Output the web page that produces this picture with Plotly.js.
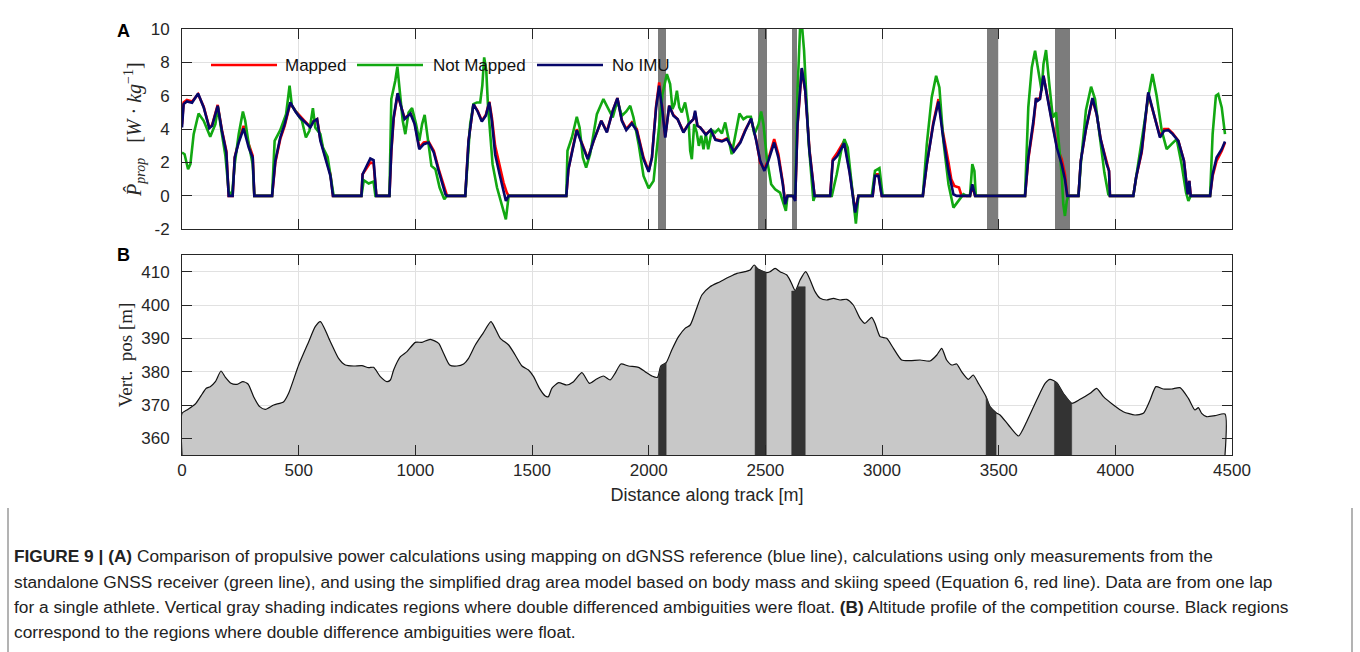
<!DOCTYPE html>
<html>
<head>
<meta charset="utf-8">
<script src="https://cdn.plot.ly/plotly-3.0.1.min.js"></script>
<style>
  html, body { margin: 0; padding: 0; background: #ffffff; }
  #chart { width: 1360px; height: 652px; }
</style>
</head>
<body>
<div id="chart"></div>
<script>
// ---------- Panel A: estimated propulsive power along one lap [W/kg] ----------
const distMapped = [0,7,21,43,69,93,117,129,153,171,190,200,217,226,243,264,286,303,310,386,
  400,421,440,464,486,503,521,536,550,564,579,593,614,636,647,769,774,793,807,821,
  833,889,897,907,924,940,954,979,997,1017,1036,1057,1079,1100,1129,1136,1214,1228,1249,1267,
  1285,1302,1317,1328,1342,1361,1378,1392,1400,1647,1656,1675,1692,1714,1739,1764,1797,1821,1846,1866,
  1885,1904,1928,1949,1978,2000,2014,2032,2045,2059,2071,2088,2106,2124,2149,2171,2192,2199,2209,2221,
  2245,2266,2286,2314,2336,2365,2393,2414,2439,2461,2478,2496,2513,2538,2556,2575,2585,2595,2618,2628,
  2638,2656,2671,2689,2711,2778,2789,2809,2838,2861,2885,2899,2960,2970,2985,2999,3175,3192,3220,3242,
  3260,3285,3297,3310,3330,3341,3377,3387,3399,3613,3627,3649,3660,3667,3677,3692,3709,3727,3749,3770,
  3784,3794,3842,3852,3874,3902,3920,3937,3963,3973,3977,4077,4089,4113,4141,4160,4177,4191,4209,4227,
  4246,4270,4294,4303,4310,4317,4323,4406,4417,4434,4456,4470];
const powerMapped = [4.3,5.6,5.75,5.65,6.1,5.35,4.1,4.25,5.45,3.95,2.7,0,0,2.3,3.3,4.2,3.1,2.4,0,0,
  2.0,3.4,4.2,5.55,5.1,4.8,4.55,4.35,4.15,4.5,4.6,3.4,2.4,1.3,0,0,1.3,1.7,2.0,1.95,
  0,0,2.6,4.6,6.1,5.3,4.65,4.95,4.4,2.9,3.2,3.25,2.7,1.6,0.2,0,0,3.3,5.5,5.1,
  4.5,4.85,5.65,4.7,3.0,1.9,0.8,0.2,0,0,1.6,2.9,4.0,3.15,2.25,3.3,4.5,3.85,5.1,5.86,
  4.55,4.0,4.4,4.0,2.3,1.5,2.3,5.4,6.8,5.2,3.55,5.4,4.85,4.6,3.85,4.3,4.6,5.0,4.2,4.1,
  3.7,3.95,3.4,3.3,3.45,2.7,3.25,3.95,4.6,3.35,2.0,1.6,2.2,3.4,2.5,0.8,-0.4,0,0,-0.2,
  4.2,7.6,6.3,2.8,0,0,2.2,2.6,3.3,1.5,-0.9,0,0,1.3,1.3,0,0,1.9,4.4,5.8,
  3.9,2.0,1.0,0.6,0.5,0,0,0.6,0,0,2.2,4.3,5.8,5.8,5.85,7.2,6.0,4.6,3.0,2.2,
  1.3,0,0,2.1,4.0,5.8,4.9,3.4,1.9,1.5,0,0,1.1,2.6,6.1,5.2,4.3,3.6,4.0,4.0,
  3.75,3.3,2.1,0.9,0.1,0.9,0,0,1.2,2.1,2.7,3.2];

const distNotMapped = [0,11,26,36,50,71,93,121,143,154,169,186,200,214,226,243,261,271,286,303,
  310,386,397,421,446,461,471,493,514,531,546,561,571,593,604,624,643,650,769,779,
  800,821,829,889,897,914,923,933,946,957,971,986,1003,1017,1029,1040,1057,1069,1086,1104,
  1124,1135,1214,1235,1249,1264,1278,1287,1295,1304,1311,1321,1331,1350,1371,1388,1400,1647,1652,1671,
  1692,1704,1718,1732,1749,1778,1806,1828,1846,1866,1885,1904,1921,1935,1957,1978,2000,2021,2042,2059,
  2078,2092,2102,2111,2121,2131,2142,2156,2171,2178,2185,2195,2206,2215,2225,2235,2245,2255,2271,2285,
  2299,2314,2328,2342,2356,2375,2389,2406,2421,2438,2453,2471,2482,2492,2506,2525,2542,2563,2578,2588,
  2595,2628,2638,2649,2656,2666,2685,2706,2713,2785,2806,2825,2839,2853,2870,2888,2899,2956,2970,2989,
  3003,3175,3192,3213,3232,3246,3263,3285,3306,3327,3349,3363,3377,3387,3396,3402,3613,3627,3642,3656,
  3670,3684,3692,3703,3717,3732,3746,3760,3770,3777,3784,3792,3799,3842,3852,3874,3896,3913,3931,3953,
  3970,3977,4077,4091,4117,4141,4159,4177,4199,4220,4241,4263,4284,4303,4313,4323,4406,4417,4431,4441,
  4456,4470];
const powerNotMapped = [2.6,2.5,1.6,1.9,3.7,4.94,4.5,3.54,4.3,5.3,3.9,2.4,0.3,0,1.9,3.7,5.06,4.5,3.1,1.9,
  0,0,3.3,3.94,4.9,6.6,5.4,4.9,4.5,3.5,3.9,5.26,4.1,3.7,2.9,2.34,0.7,0,0,0.94,
  0.74,0.86,0,0,5.8,6.9,7.74,6.3,4.5,3.7,5.0,5.26,4.3,3.3,4.3,4.86,3.1,1.8,1.6,0.5,
  -0.2,0,0,4.3,5.5,5.6,5.6,6.6,8.3,7.5,5.5,3.5,1.9,0.5,-0.6,-1.4,0,0,2.7,3.5,
  4.74,4.1,2.3,1.7,2.5,4.9,5.8,5.2,4.7,5.7,4.8,5.06,5.4,4.7,3.1,1.2,0.46,0.9,3.7,6.1,
  7.3,6.7,5.2,5.5,6.3,5.3,5.0,5.6,4.5,2.7,2.2,4.3,3.8,3.0,3.6,2.8,3.7,2.8,3.94,3.8,
  4.0,3.74,4.4,3.5,2.5,3.9,4.94,4.6,4.74,4.74,3.7,4.3,5.06,4.3,2.3,0.7,0.4,0.2,-0.5,-0.9,
  0,0,6.3,10.1,10.4,8.7,3.3,-0.3,0,0,1.3,2.7,3.4,2.9,0.7,-1.66,0,0,1.5,1.66,
  0,0,3.1,5.9,7.2,6.5,3.3,0.7,-0.7,-0.3,0.1,0,0,1.9,1.5,0,0,5.3,7.7,8.7,
  7.5,6.3,7.9,8.74,6.7,4.7,5.0,2.9,1.3,-0.5,-1.2,-0.3,0,0,1.9,5.14,6.54,5.8,3.7,1.4,
  0.1,0,0,1.3,3.7,5.9,7.3,6.0,3.9,2.8,3.1,3.4,1.9,0.2,-0.3,0,0,3.7,6.0,6.1,
  5.3,3.7];

const distNoImu = [0,7,21,43,69,93,117,129,153,171,190,200,217,226,243,264,286,303,310,386,
  400,421,440,464,486,503,521,536,550,564,579,593,614,636,647,769,774,793,807,821,
  833,889,897,907,924,940,954,979,997,1017,1036,1057,1079,1100,1129,1136,1214,1228,1249,1267,
  1285,1302,1317,1328,1342,1361,1378,1388,1400,1647,1656,1675,1692,1714,1739,1764,1797,1821,1846,1866,
  1885,1904,1928,1949,1978,2000,2014,2032,2045,2059,2071,2088,2106,2124,2149,2171,2192,2199,2209,2221,
  2245,2266,2286,2314,2336,2365,2393,2414,2439,2461,2478,2496,2513,2538,2556,2575,2585,2595,2618,2628,
  2638,2656,2671,2689,2711,2778,2789,2809,2838,2861,2885,2899,2960,2970,2985,2999,3175,3192,3220,3242,
  3260,3285,3306,3320,3377,3387,3399,3613,3627,3649,3660,3667,3677,3692,3709,3727,3749,3770,3784,3794,
  3842,3852,3874,3902,3920,3937,3963,3973,3977,4077,4089,4113,4141,4160,4177,4191,4209,4227,4246,4270,
  4294,4303,4310,4317,4323,4406,4417,4434,4456,4470];
const powerNoImu = [4.1,5.5,5.66,5.58,6.14,5.3,4.06,4.2,5.4,3.9,2.6,0,0,2.3,3.2,4.04,2.9,2.3,0,0,
  2.1,3.5,4.3,5.6,5.06,4.74,4.5,4.3,4.1,4.46,4.6,3.3,2.3,1.2,0,0,1.3,1.8,2.24,2.14,
  0,0,2.7,4.7,6.16,5.3,4.6,4.94,4.3,2.8,3.1,3.2,2.6,1.5,0.1,0,0,3.3,5.5,5.06,
  4.46,4.8,5.6,4.5,2.5,1.3,0.2,-0.3,0,0,1.6,2.9,3.94,3.1,2.2,3.3,4.5,3.8,5.1,5.86,
  4.5,3.94,4.34,3.9,2.2,1.44,2.3,5.3,6.6,5.1,3.5,5.4,4.8,4.6,3.8,4.3,4.6,5.1,4.2,4.1,
  3.66,3.96,3.36,3.26,3.4,2.66,3.2,3.9,4.64,3.3,2.1,1.5,2.1,3.2,2.3,0.7,-0.5,0,0,-0.3,
  4.3,7.66,6.3,2.7,0,0,2.1,2.4,3.16,1.4,-1.0,0,0,1.2,1.2,0,0,1.9,4.3,5.66,
  3.7,1.5,0.1,0,0,0.7,0,0,2.3,4.5,5.86,5.7,5.8,7.2,6.0,4.5,2.9,1.9,1.0,0,
  0,2.1,4.0,5.86,4.9,3.4,1.9,1.5,0,0,1.1,2.7,6.2,5.2,4.3,3.5,3.9,3.94,3.7,3.3,
  2.1,0.9,0.1,0.9,0,0,1.3,2.3,2.8,3.26];

// Stretches where the double-differenced ambiguities were float [m]
const floatStart = [2039, 2470, 2613, 3450, 3740];
const floatEnd   = [2074, 2506, 2637, 3498, 3807];

// ---------- Panel B: altitude profile of the course [m] ----------
const distAlt = [0,21,57,79,104,121,143,167,186,210,236,261,283,307,333,357,393,436,457,500,
  543,571,593,636,671,700,736,771,800,821,850,878,893,907,936,964,1000,1028,1064,1100,
  1121,1147,1178,1207,1228,1257,1290,1324,1342,1364,1400,1428,1457,1485,1507,1532,1557,1570,1585,1614,
  1649,1678,1714,1746,1775,1806,1835,1856,1881,1914,1956,1985,2014,2038,2052,2075,2099,2128,2156,2178,
  2203,2228,2263,2306,2342,2378,2413,2435,2452,2470,2506,2520,2542,2563,2592,2609,2628,2649,2673,2692,
  2713,2735,2763,2792,2820,2849,2877,2906,2927,2956,2970,2992,3020,3049,3084,3120,3163,3206,3235,3256,
  3277,3299,3320,3341,3370,3391,3413,3446,3463,3489,3506,3542,3585,3620,3663,3699,3720,3749,3777,3813,
  3849,3892,3920,3949,3992,4034,4084,4120,4149,4174,4206,4242,4277,4313,4341,4356,4370,4391,4427,4470];
const altitude = [367.5,368.5,370.3,372.5,375,375.5,377,380.2,378.3,376.5,376.2,377,376.3,372.5,369.5,368.7,370,371,373.5,382,
  389,393.5,395,389,384,382,381.7,381.8,381.2,381.3,378.5,377,377.5,380.5,384.5,386,388.8,388.8,389.7,388.5,
  385.5,382,381.7,382.3,384,388,391.5,395,393,390,388,385,381.7,380.5,378.5,375,372.7,372.5,375,376.7,
  376,377,379.7,376.5,377.7,378.7,377.5,379.5,382.3,381.7,381.3,380,378.7,378.3,381.7,382.7,386.5,390.5,393,394,
  398.5,403,405.5,407,408.3,409.5,410,410.5,412,410.7,409.7,410,411,410,409,407,404.3,407.5,410,407.5,
  404,402,401.5,402,401.5,401.7,400,396,394.5,396.3,394.5,390.5,390,387,383.5,383.3,383.5,383.2,385,387,
  383.5,382,382.3,380,377.7,379,376.5,372.5,369.5,367.7,367,364,360.7,365,371.5,376.5,377.7,376.7,373.5,370.5,
  371.7,373.5,375,372.5,370,368,367,367.5,371.5,375.5,374.8,374.8,375.2,372,368.5,369.2,367.5,366.5,366.8,367.3];

// Float stretches on the altitude profile (top edge of each dark block)
const floatAltDist = [[2042, 2052, 2075], [2456, 2470, 2504], [2613, 2628, 2640, 2671],
  [3446, 3463, 3489], [3739, 3749, 3777, 3813]];
const floatAltHeight = [[378.5, 381.7, 382.7], [411.6, 410.7, 409.8], [404.2, 404.2, 405.5, 405.5],
  [372.5, 369.5, 367.7], [377.2, 376.7, 373.5, 370.5]];

// Axes
const distTicks = [0, 500, 1000, 1500, 2000, 2500, 3000, 3500, 4000, 4500];
const powerTicks = [-2, 0, 2, 4, 6, 8, 10];
const powerTickText = ['-2', '0', '2', '4', '6', '8', '10'];
const altTicks = [360, 370, 380, 390, 400, 410];
const powerRange = [-2, 10];
const altRange = [355, 415];
const distRange = [0, 4500];

const seriesNames = ['Mapped', 'Not Mapped', 'No IMU'];
const seriesColors = ['#ff0000', '#12a812', '#06066a'];

const captionLines = [
  '<b>FIGURE 9 | (A)</b> Comparison of propulsive power calculations using mapping on dGNSS reference (blue line), calculations using only measurements from the',
  'standalone GNSS receiver (green line), and using the simplified drag area model based on body mass and skiing speed (Equation 6, red line). Data are from one lap',
  'for a single athlete. Vertical gray shading indicates regions where double differenced ambiguities were float. <b>(B)</b> Altitude profile of the competition course. Black regions',
  'correspond to the regions where double difference ambiguities were float.'
];

// ---------- page geometry helpers ----------
const W = 1360, H = 652;
const M = {l: 182, r: 128, t: 29, b: 197};
const PW = W - M.l - M.r, PH = H - M.t - M.b;
const pxX = v => (v - M.l) / PW;          // page pixel -> paper x
const pxY = v => (H - M.b - v) / PH;      // page pixel -> paper y

const SANS = 'Liberation Sans, Arial, Helvetica, sans-serif';
const SERIF = 'Liberation Serif, Times New Roman, serif';
const INK = '#262626';

const axisBase = {
  showline: true, linecolor: INK, linewidth: 1, mirror: 'allticks',
  ticks: 'inside', ticklen: 10, tickwidth: 1, tickcolor: INK,
  showgrid: true, gridcolor: '#e1e1e1', gridwidth: 1, zeroline: false,
  tickfont: {family: SANS, size: 17, color: INK}
};

// ---------- traces ----------
const traces = [];

// gray shading of the float stretches, full height of panel A
traces.push({
  type: 'bar', xaxis: 'x', yaxis: 'y',
  x: floatStart.map((s, i) => (s + floatEnd[i]) / 2),
  width: floatStart.map((s, i) => floatEnd[i] - s),
  base: floatStart.map(() => powerRange[0]),
  y: floatStart.map(() => powerRange[1] - powerRange[0]),
  marker: {color: '#7c7c7c', line: {width: 0}},
  showlegend: false
});

const powerSeries = [[distMapped, powerMapped], [distNotMapped, powerNotMapped], [distNoImu, powerNoImu]];
powerSeries.forEach((s, i) => traces.push({
  type: 'scatter', mode: 'lines', x: s[0], y: s[1], name: seriesNames[i],
  xaxis: 'x', yaxis: 'y', line: {color: seriesColors[i], width: 2.6}, showlegend: false
}));

// altitude profile, closed down to the lower edge of the axis
const altFloor = altRange[0];
traces.push({
  type: 'scatter', mode: 'lines', xaxis: 'x2', yaxis: 'y2',
  x: [distAlt[0]].concat(distAlt, [distAlt[distAlt.length - 1]]),
  y: [altFloor].concat(altitude, [altFloor]),
  fill: 'toself', fillcolor: '#c8c8c8',
  line: {color: '#111111', width: 1.2, shape: 'spline', smoothing: 0.6},
  showlegend: false
});
floatAltDist.forEach((xs, i) => {
  traces.push({
    type: 'scatter', mode: 'lines', xaxis: 'x2', yaxis: 'y2',
    x: [xs[0]].concat(xs, [xs[xs.length - 1]]),
    y: [altFloor].concat(floatAltHeight[i], [altFloor]),
    fill: 'toself', fillcolor: '#333333', line: {color: '#333333', width: 0.5},
    showlegend: false
  });
});

// ---------- shapes: legend samples and caption frame ----------
const shapes = [];
const legendRow = pxY(65);
const legendLineX = [[211, 277], [357, 423], [537, 603]];
const legendTextX = [283, 431, 610];
legendLineX.forEach((lx, i) => {
  shapes.push({type: 'line', xref: 'paper', yref: 'paper',
    x0: pxX(lx[0]), x1: pxX(lx[1]), y0: legendRow, y1: legendRow,
    line: {color: seriesColors[i], width: 2.6}});
});
[8, 1352].forEach(xp => {
  shapes.push({type: 'line', xref: 'paper', yref: 'paper',
    x0: pxX(xp), x1: pxX(xp), y0: pxY(508), y1: pxY(652),
    line: {color: '#9a9a9a', width: 1.5}});
});

// ---------- annotations ----------
const annotations = [];
annotations.push({xref: 'paper', yref: 'paper', x: pxX(123), y: pxY(31), text: '<b>A</b>',
  showarrow: false, xanchor: 'center', yanchor: 'middle', font: {family: SANS, size: 18, color: '#000'}});
annotations.push({xref: 'paper', yref: 'paper', x: pxX(123), y: pxY(255), text: '<b>B</b>',
  showarrow: false, xanchor: 'center', yanchor: 'middle', font: {family: SANS, size: 18, color: '#000'}});
seriesNames.forEach((n, i) => {
  annotations.push({xref: 'paper', yref: 'paper', x: pxX(legendTextX[i]), y: legendRow, text: n,
    showarrow: false, xanchor: 'left', yanchor: 'middle', font: {family: SANS, size: 17, color: '#111'}});
});
const captionY = [556, 582, 607, 632];
captionLines.forEach((t, i) => {
  annotations.push({xref: 'paper', yref: 'paper', x: pxX(12), y: pxY(captionY[i]), text: t,
    showarrow: false, xanchor: 'left', yanchor: 'middle', align: 'left',
    font: {family: SANS, size: 17.3, color: '#222'}});
});

// ---------- layout ----------
const layout = {
  width: W, height: H, margin: M,
  paper_bgcolor: '#ffffff', plot_bgcolor: '#ffffff',
  font: {family: SANS, color: INK},
  showlegend: false,
  bargap: 0,
  xaxis: Object.assign({}, axisBase, {
    anchor: 'y', domain: [0, 1], range: distRange, tickvals: distTicks, showticklabels: false
  }),
  yaxis: Object.assign({}, axisBase, {
    anchor: 'x', domain: [pxY(229.3), 1], range: powerRange,
    tickvals: powerTicks, ticktext: powerTickText, ticklabelstandoff: 8,
    title: {
      text: '<i>P\u0302</i><sub><i>prop</i></sub>\u00a0\u00a0\u00a0[<i>W</i> \u00b7 <i>kg</i><sup>\u22121</sup>]',
      font: {family: SERIF, size: 20, color: INK}, standoff: 3
    }
  }),
  xaxis2: Object.assign({}, axisBase, {
    anchor: 'y2', domain: [0, 1], range: distRange, tickvals: distTicks, ticklabelstandoff: 0,
    title: {text: 'Distance along track [m]', font: {family: SANS, size: 18, color: INK}, standoff: 8}
  }),
  yaxis2: Object.assign({}, axisBase, {
    anchor: 'x2', domain: [0, pxY(255)], range: altRange, tickvals: altTicks, ticklabelstandoff: 8,
    title: {text: 'Vert.\u00a0\u00a0pos [m]', font: {family: SERIF, size: 19, color: INK}, standoff: 3}
  }),
  shapes: shapes,
  annotations: annotations
};

Plotly.newPlot('chart', traces, layout, {staticPlot: true, displayModeBar: false});
</script>
</body>
</html>
